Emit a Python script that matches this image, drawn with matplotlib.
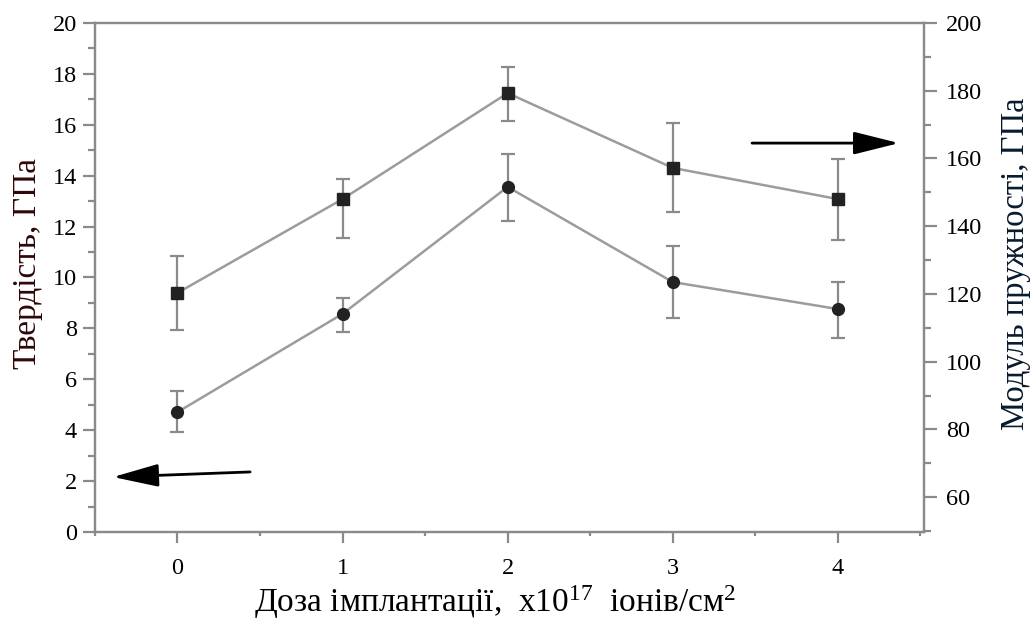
import numpy as np
import matplotlib.pyplot as plt
from matplotlib.ticker import MultipleLocator

plt.rcParams['font.family'] = ['Liberation Serif', 'DejaVu Serif']
plt.rcParams['mathtext.fontset'] = 'custom'
plt.rcParams['mathtext.rm'] = 'Liberation Serif'

# Data
dose = [0, 1, 2, 3, 4]
hardness = [4.71, 8.57, 13.56, 9.82, 8.76]
hard_lo = [3.93, 7.86, 12.22, 8.41, 7.62]
hard_hi = [5.54, 9.19, 14.85, 11.24, 9.82]
modulus = [120.3, 148.0, 179.3, 157.2, 148.0]
mod_lo = [109.3, 136.4, 171.1, 144.2, 136.0]
mod_hi = [131.2, 154.0, 187.0, 170.5, 159.8]

hard = np.array(hardness)
mod = np.array(modulus)
hard_err = [hard - np.array(hard_lo), np.array(hard_hi) - hard]
mod_err = [mod - np.array(mod_lo), np.array(mod_hi) - mod]

gray = '#8a8a8a'
line_gray = '#9c9c9c'
mark = '#222222'

fig = plt.figure(figsize=(10.31, 6.21), dpi=100)
ax = fig.add_axes([0.092, 0.1433, 0.804, 0.8197])
ax2 = ax.twinx()

ax.errorbar(dose, hard, yerr=hard_err, fmt='-o', color=line_gray, lw=1.8,
            ecolor=gray, elinewidth=1.6, capsize=5, capthick=1.6,
            marker='o', ms=8.5, mfc=mark, mec=mark, zorder=3)
ax2.errorbar(dose, mod, yerr=mod_err, fmt='-s', color=line_gray, lw=1.8,
             ecolor=gray, elinewidth=1.6, capsize=5, capthick=1.6,
             marker='s', ms=8, mfc=mark, mec=mark, zorder=3)

ax.set_xlim(-0.5, 4.52)
ax.set_ylim(0, 20)
ax2.set_ylim(49.7, 200)

ax.xaxis.set_major_locator(MultipleLocator(1))
ax.xaxis.set_minor_locator(MultipleLocator(0.5))
ax.yaxis.set_major_locator(MultipleLocator(2))
ax.yaxis.set_minor_locator(MultipleLocator(1))
ax2.set_yticks(np.arange(60, 201, 20))
ax2.yaxis.set_minor_locator(MultipleLocator(10))

for a in (ax, ax2):
    for s in a.spines.values():
        s.set_color(gray)
        s.set_linewidth(1.6)
    a.tick_params(which='major', direction='out', length=9, width=1.6,
                  color=gray, labelsize=17.5, labelcolor='black')
    a.tick_params(which='minor', direction='out', length=5, width=1.6,
                  color=gray)

ax.tick_params(axis='x', which='major', length=8, pad=11)
ax.tick_params(axis='x', which='minor', length=3)
ax.tick_params(axis='y', pad=4)
ax2.tick_params(axis='y', pad=7)

ax.set_xlabel(r'Доза імплантації,  x10$\mathregular{^{17}}$  іонів/см$\mathregular{^{2}}$',
              fontsize=24)
ax.set_ylabel('Твердість, ГПа', fontsize=24, color='#2e0808')
ax2.set_ylabel('Модуль пружності, ГПа', fontsize=23.5, color='#081a2e')
ax.xaxis.set_label_coords(0.483, -0.1)
ax.yaxis.set_label_coords(-0.063, 0.528)
ax2.yaxis.set_label_coords(1.092, 0.527)

arrow = dict(arrowstyle='-|>,head_length=2.0,head_width=0.5', color='black',
             lw=2, mutation_scale=14, shrinkA=0, shrinkB=0)
ax.annotate('', xy=(-0.39, 2.16), xytext=(0.44, 2.36), arrowprops=arrow)
ax.annotate('', xy=(4.37, 15.28), xytext=(3.48, 15.28), arrowprops=arrow)

fig.savefig('out.png', dpi=100)
